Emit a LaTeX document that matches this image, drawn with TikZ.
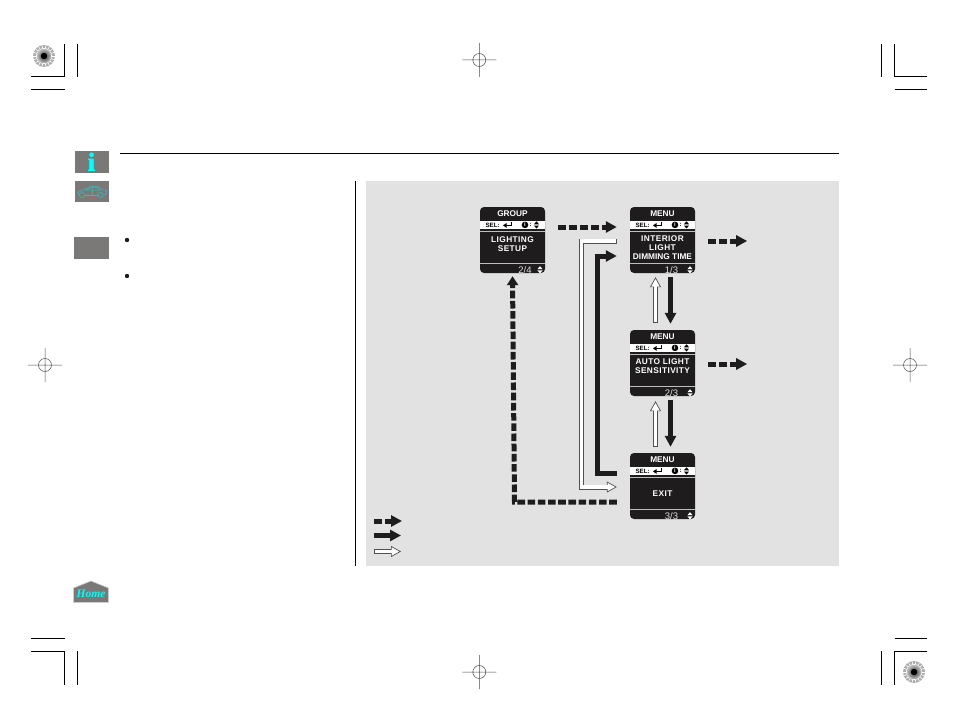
\documentclass[tikz,border=0pt]{standalone}
\usepackage{fontspec}
\setmainfont{Liberation Sans}
\newfontfamily\iconserif{Liberation Serif}
\newfontfamily\iconheavy[BoldFeatures={FakeBold=2.5}]{Liberation Serif}
\usetikzlibrary{arrows.meta,calc}
\definecolor{panelgray}{HTML}{E2E2E2}
\definecolor{icongray}{HTML}{7B7878}
\definecolor{iconcyan}{HTML}{00FFFF}
\definecolor{carcyan}{HTML}{2EBFC4}
\definecolor{casing}{HTML}{505050}
\definecolor{screenblack}{HTML}{1E1C1D}
\newcommand{\widetxt}[1]{{\addfontfeature{LetterSpace=5}#1}}
\tikzset{
  x=1pt,y=-1pt,
  crop/.style={line width=1pt,black},
  regmark/.style={line width=.5pt,black!70},
  screenbox/.style={fill=screenblack,rounded corners=4pt,minimum width=65pt,minimum height=66pt,inner sep=0pt,draw=none},
  titletext/.style={text=white,font=\fontsize{8.3}{9}\selectfont\bfseries,inner sep=0pt},
  bodytext/.style={text=white,font=\fontsize{8.3}{9}\selectfont\bfseries,align=center,inner sep=0pt},
  foottext/.style={text=white!88!black,font=\fontsize{9.5}{10}\selectfont,inner sep=0pt},
  bandtext/.style={text=black,font=\fontsize{6.2}{6.2}\selectfont\bfseries,inner sep=0pt},
  dashconn/.style={line width=5pt,screenblack,dash pattern=on 8pt off 3pt,-{Triangle[length=11pt,width=11pt]}},
  longdash/.style={line width=5pt,screenblack,dash pattern=on 7.6pt off 2.6pt,-{Triangle[length=9pt,width=11pt]}},
  blackconn/.style={line width=5pt,screenblack,-{Triangle[length=11pt,width=11pt]}},
  whiteconn/.style={line width=5pt,draw=casing,-{Triangle[length=10pt,width=11pt,line width=.7pt,fill=white]},
    postaction={draw=white,line width=3.5pt,-,shorten >=9pt,shorten <=.7pt}},
}
\newcommand{\updownmark}[3]{%
  \fill[#3] (#1,#2-3.6)--(#1+2.6,#2-.6)--(#1-2.6,#2-.6)--cycle;
  \fill[#3] (#1,#2+3.6)--(#1+2.6,#2+.6)--(#1-2.6,#2+.6)--cycle;}
\newcommand{\hudscreen}[6]{%
  \begin{scope}[shift={(#2,#3)}]
    \node[screenbox] (#1) at (32.5,33) {};
    \fill[white] (0,14) rectangle (65,21.7);
    \draw[line width=.6pt,white!75!black] (0,24.6)--(65,24.6);
    \draw[line width=.6pt,white!75!black] (0,56.4)--(65,56.4);
    \node[titletext] (#1title) at (32.5,6.3) {#4};
    \node[bandtext] (#1sel) at (12.6,17.9) {SEL:};
    \draw[line width=1.5pt,black] (31.4,15.4)--(31.4,18.4)--(26,18.4);
    \fill[black] (23,18.4)--(26.5,16)--(26.5,20.8)--cycle;
    \node[circle,fill=black,text=white,inner sep=0pt,minimum size=6.6pt,font=\fontsize{5.5}{5.5}\selectfont\bfseries] (#1info) at (45,17.9) {i};
    \node[bandtext] (#1colon) at (50.6,17.6) {:};
    \updownmark{56.5}{17.9}{black}
    \node[bodytext] (#1body) at #5 {#6};
  \end{scope}}
\newcommand{\starburst}[2]{%
  \begin{scope}[shift={(#1,#2)}]
    \fill[black!32] (0,0) circle (11);
    \foreach \a in {0,20,...,340}{\draw[white,line width=.6pt] (\a:7.5)--(\a:10.8);}
    \draw[white,line width=.6pt] (0,0) circle (7.6);
    \shade[inner color=black!80,outer color=black!25] (0,0) circle (7.2);
    \fill[black] (0,0) circle (3.2);
  \end{scope}}
\newcommand{\regcross}[2]{%
  \begin{scope}[shift={(#1,#2)}]
    \draw[regmark] (-17,0)--(17,0) (0,-17)--(0,17) (0,0) circle (6.5);
  \end{scope}}
\begin{document}
\begin{tikzpicture}
\useasboundingbox (0,0) rectangle (954,709);
\fill[white] (0,0) rectangle (954,709);

% crop marks
\draw[crop] (31,77)--(64.5,77)--(64.5,44) (31,90)--(65,90) (77,44)--(77,77);
\draw[crop] (881.5,44)--(881.5,77) (894.5,44)--(894.5,77)--(927,77) (894.5,90)--(927,90);
\draw[crop] (31,638)--(65,638) (31,651)--(64.5,651)--(64.5,685) (77,651)--(77,685);
\draw[crop] (894.5,638)--(927,638) (881.5,651)--(881.5,685) (927,651)--(894.5,651)--(894.5,685);
\starburst{44}{56}
\starburst{914}{672}
\regcross{479.3}{60}
\regcross{45}{365}
\regcross{910}{365}
\regcross{479.3}{672}

% page rules
\draw[line width=1pt,black] (120,153)--(839,153);
\draw[line width=1pt,black] (355,181)--(355,566);
\fill[panelgray] (366,181) rectangle (839,566);

% side icons
\fill[icongray] (75,151) rectangle (109,173);
\node[inner sep=0pt,text=iconcyan,font=\fontsize{26}{26}\selectfont\iconheavy\bfseries] (infoicon) at (91.5,161.8) {i};
\fill[icongray] (75,181) rectangle (109,202);
\begin{scope}[line width=.5pt,carcyan]
  \draw (79.5,195.5)--(77.5,192.5)--(83,190)--(90,186.7)--(98,186.7)--(103,190)--(107,190)--(106,194)--(103,195.5);
  \draw (84.5,195.5)--(97.5,195.5);
  \draw (82,195) circle (2.5) (100.5,195) circle (2.5);
  \draw (86,190)--(91,187.7)--(97,187.7)--(100,190)--cycle (92.5,187.7)--(92.5,195.5);
\end{scope}
\fill[icongray] (74,237) rectangle (109,259);
\fill[screenblack] (127,240) circle (2.2);
\fill[screenblack] (127,276) circle (2.2);
\filldraw[fill=icongray,draw=black!20,line width=.6pt] (73.5,588)--(91,581)--(108.5,588)--(108.5,602.5)--(73.5,602.5)--cycle;
\node[inner sep=0pt,text=iconcyan,font=\fontsize{11.5}{12}\selectfont\iconserif\bfseries\itshape] (homeicon) at (91,594) {Home};

% screens
\hudscreen{grp}{480}{207}{GROUP}{(32.5,37.2)}{\widetxt{LIGHTING}\\\widetxt{SETUP}}
\hudscreen{mA}{630}{207}{MENU}{(32.5,40.7)}{\widetxt{INTERIOR}\\\widetxt{LIGHT}\\DIMMING TIME}
\hudscreen{mB}{630}{330}{MENU}{(32.5,36.2)}{\widetxt{AUTO LIGHT}\\\widetxt{SENSITIVITY}}
\hudscreen{mC}{630}{453}{MENU}{(32.5,41)}{\widetxt{EXIT}}
\node[foottext] (grppage) at (525,269.8) {2/4};
\node[foottext] (mApage) at (671.5,269.8) {1/3};
\node[foottext] (mBpage) at (671.5,392.8) {2/3};
\node[foottext] (mCpage) at (671.5,515.8) {3/3};
\updownmark{540}{269.8}{white}
\updownmark{690}{269.8}{white}
\updownmark{690}{392.8}{white}
\updownmark{690}{515.8}{white}

% connector ends
\coordinate (grpout) at ([xshift=13pt,yshift=13pt]grp.east);
\coordinate (mAin) at ([xshift=-13pt,yshift=13pt]mA.west);
\coordinate (mAwhiteout) at ([xshift=-13pt,yshift=-1pt]mA.west);
\coordinate (mAblackin) at ([xshift=-13pt,yshift=-16pt]mA.west);
\coordinate (mCblackout) at ([xshift=-13pt,yshift=13pt]mC.west);
\coordinate (mCwhitein) at ([xshift=-13pt,yshift=-1pt]mC.west);
\coordinate (mCdashout) at ([xshift=-13pt,yshift=-16pt]mC.west);
\coordinate (grpin) at ([yshift=-3pt]grp.south);
\coordinate (mAupin) at ([xshift=-7pt,yshift=-4pt]mA.south);
\coordinate (mBupout) at ([xshift=-7pt,yshift=7pt]mB.north);
\coordinate (mAdownout) at ([xshift=8pt,yshift=-4pt]mA.south);
\coordinate (mBdownin) at ([xshift=8pt,yshift=6pt]mB.north);
\coordinate (mBupin) at ([xshift=-7pt,yshift=-5pt]mB.south);
\coordinate (mCupout) at ([xshift=-7pt,yshift=6pt]mC.north);
\coordinate (mBdownout) at ([xshift=8pt,yshift=-4pt]mB.south);
\coordinate (mCdownin) at ([xshift=8pt,yshift=6pt]mC.north);
\coordinate (mAright) at ([xshift=13pt,yshift=-1pt]mA.east);
\coordinate (mArightend) at ([xshift=52pt,yshift=-1pt]mA.east);
\coordinate (mBright) at ([xshift=13pt,yshift=-1pt]mB.east);
\coordinate (mBrightend) at ([xshift=52pt,yshift=-1pt]mB.east);

% connectors
\draw[dashconn] (grpout)--(mAin);
\draw[dashconn] (mAright)--(mArightend);
\draw[dashconn] (mBright)--(mBrightend);
\draw[whiteconn] (mAwhiteout)--(581.5,241)--(581.5,487)--(mCwhitein);
\draw[blackconn] (mCblackout)--(597,473)--(597,256)--(mAblackin);
\draw[longdash] (mCdashout)--(514.5,502)--(grpin);
\draw[whiteconn] (mBupout)--(mAupin);
\draw[blackconn] (mAdownout)--(mBdownin);
\draw[whiteconn] (mCupout)--(mBupin);
\draw[blackconn] (mBdownout)--(mCdownin);

% legend
\coordinate (legAa) at (374,521); \coordinate (legAb) at (402,521);
\coordinate (legBa) at (374,535.5); \coordinate (legBb) at (401,535.5);
\coordinate (legCa) at (374,551.5); \coordinate (legCb) at (401,551.5);
\draw[dashconn] (legAa)--(legAb);
\draw[blackconn] (legBa)--(legBb);
\draw[whiteconn] (legCa)--(legCb);
\end{tikzpicture}
\end{document}
